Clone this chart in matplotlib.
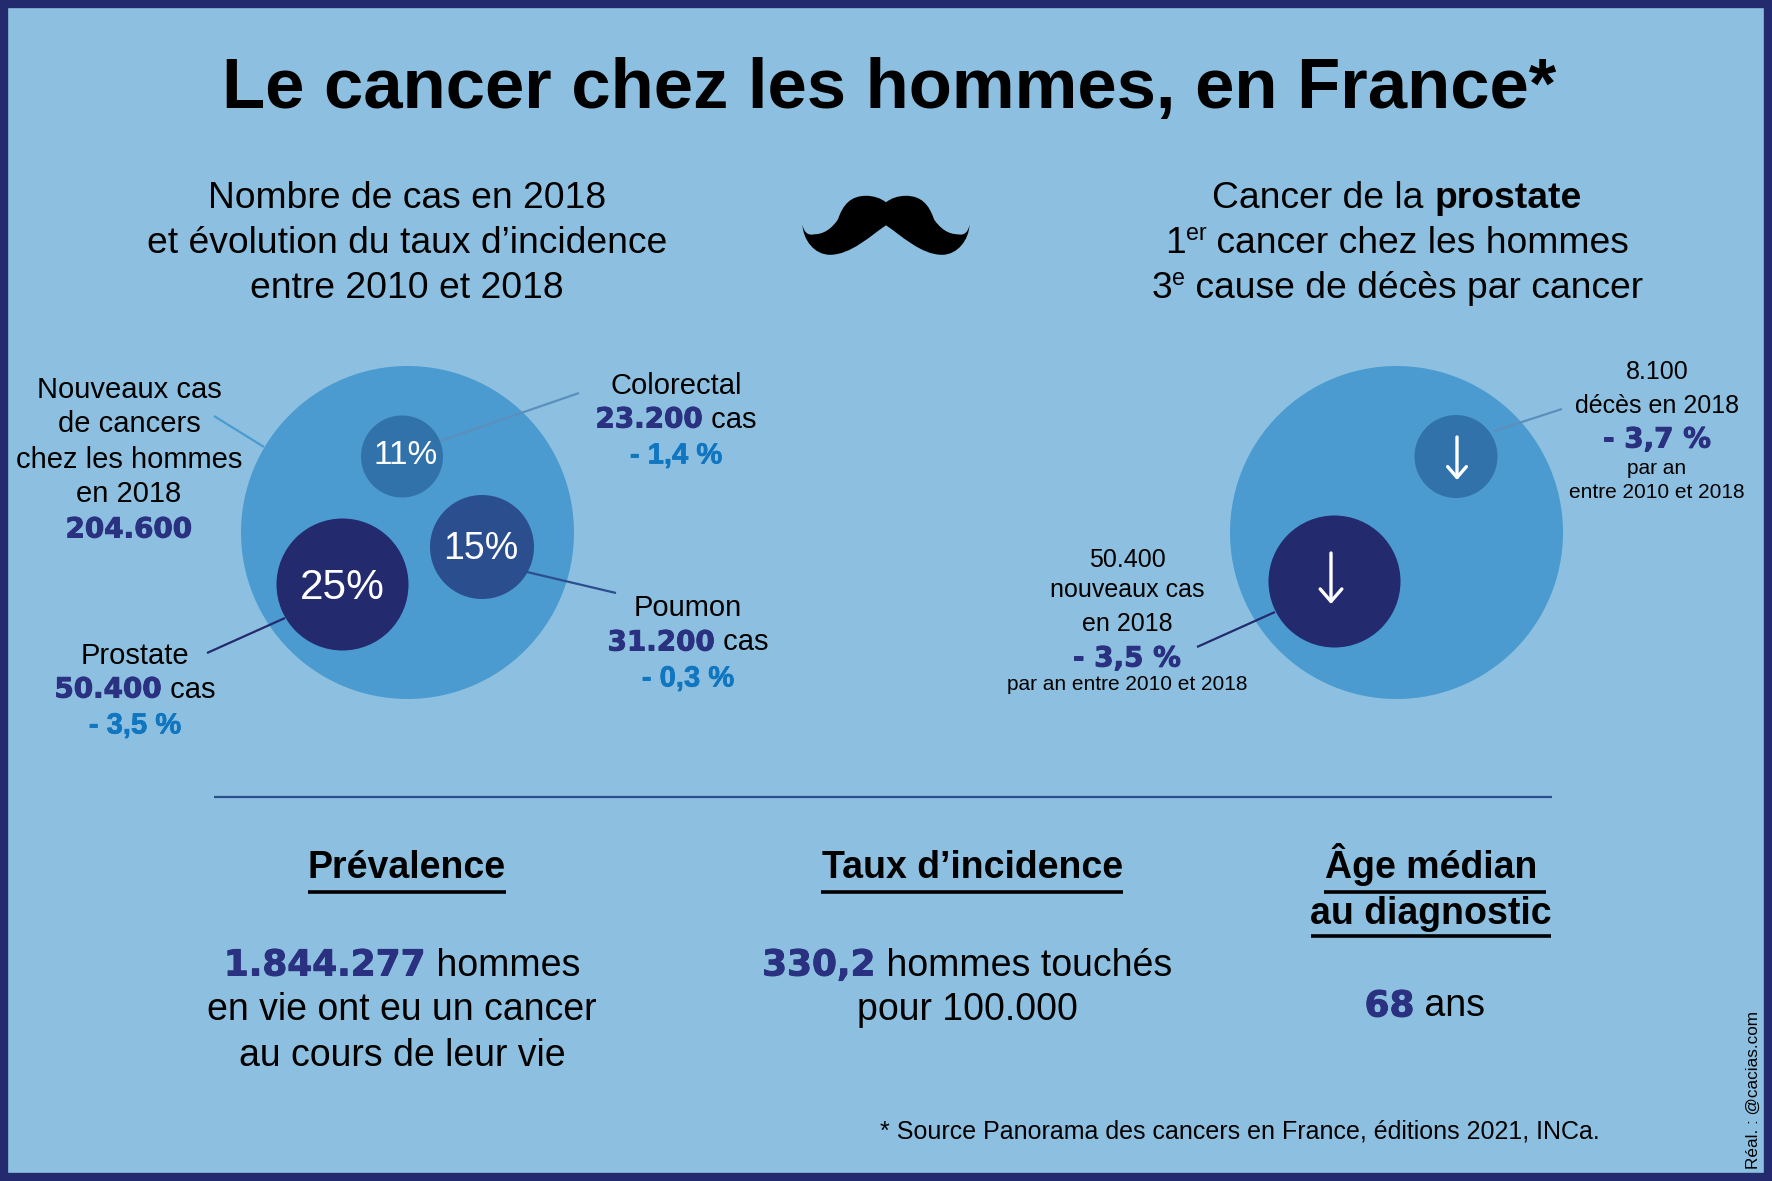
#!/usr/bin/python
# Infographic: le cancer chez les hommes, en France
import matplotlib
matplotlib.use('Agg')
import matplotlib.pyplot as plt
import matplotlib.patheffects as pe
from matplotlib.patches import Circle, PathPatch, FancyArrowPatch
from matplotlib.path import Path

plt.rcParams['font.family'] = ['Liberation Sans', 'DejaVu Sans']

# chart data
title = 'Le cancer chez les hommes, en France*'
shares = ['11%', '15%', '25%']
sites = ['Colorectal', 'Poumon', 'Prostate']
site_cases = ['23.200', '31.200', '50.400']
site_change = ['- 1,4 %', '- 0,3 %', '- 3,5 %']
total_cases = '204.600'
total_lines = ['Nouveaux cas', 'de cancers', 'chez les hommes', 'en 2018']
left_head = ['Nombre de cas en 2018', 'et évolution du taux d’incidence', 'entre 2010 et 2018']
deaths = '8.100'
deaths_change = '- 3,7 %'
new_cases = '50.400'
new_change = '- 3,5 %'
prevalence = '1.844.277'
incidence = '330,2'
median_age = '68'
source = '* Source Panorama des cancers en France, éditions 2021, INCa.'
credit = 'Réal. : @cacias.com'

# colours
BG = '#8dc0e0'
NAVY = '#232a6e'
NUM = '#2a3180'
MID = '#2b4e8e'
STEEL = '#3272ab'
DISC = '#4b9bd0'
PCT = '#0f76bf'

W, H = 1772, 1181
fig = plt.figure(figsize=(W / 100, H / 100), dpi=100, facecolor=BG)
ax = fig.add_axes([0, 0, 1, 1])
ax.set_xlim(0, W)
ax.set_ylim(H, 0)
ax.axis('off')


def runs(cx, y, parts, size):
    # centred line made of several styled pieces, y is the middle of the line
    renderer = fig.canvas.get_renderer()
    base = y + 0.36 * size * 100 / 72
    items = []
    total = 0
    for txt, opts in parts:
        opts = dict(opts)
        sup = opts.pop('sup', False)
        heavy = opts.pop('heavy', 0)
        s = opts.pop('fs', size * 0.62 if sup else size)
        dy = -0.36 * size * 100 / 72 if sup else 0
        t = ax.text(0, base + dy, txt, fontsize=s, ha='left', va='baseline', **opts)
        if heavy:
            t.set_path_effects([pe.withStroke(linewidth=heavy, foreground=opts.get('color', 'black'))])
        w = t.get_window_extent(renderer).width
        items.append((t, w))
        total += w
    x = cx - total / 2
    for t, w in items:
        t.set_x(x)
        x += w


def plain(cx, y, txt, size, **kw):
    runs(cx, y, [(txt, kw)], size)


def num(txt, fs):
    # the figures in the reference are very wide and heavy
    return (txt, dict(color=NUM, fontweight='bold', family='DejaVu Sans', fs=fs, heavy=0.7))


def line(x0, y0, x1, y1, color, lw=1.6):
    ax.plot([x0, x1], [y0, y1], color=color, lw=lw, solid_capstyle='butt', zorder=3)


def disc(cx, cy, r, color):
    ax.add_patch(Circle((cx, cy), r, facecolor=color, edgecolor='none', zorder=2))


# frame
for x0, y0, x1, y1 in [(0, 4, W, 4), (0, H - 4, W, H - 4), (4, 0, 4, H), (W - 4, 0, W - 4, H)]:
    ax.plot([x0, x1], [y0, y1], color=NAVY, lw=6, solid_capstyle='butt', zorder=5)

# title
plain(889, 83, title, 50.9, fontweight='bold', color='black')

# headings
for yy, txt in zip([195, 240, 285], left_head):
    plain(407, yy, txt, 26.87)
runs(1397, 195, [('Cancer de la ', {}), ('prostate', dict(fontweight='bold'))], 26.87)
runs(1397, 240, [('1', {}), ('er', dict(sup=True)), (' cancer chez les hommes', {})], 26.87)
runs(1397, 285, [('3', {}), ('e', dict(sup=True)), (' cause de décès par cancer', {})], 26.87)

# moustache, outline traced on the left half then mirrored
mx, my = 886, 202.3
left = [(0, 0), (-5, -4), (-12, -6.5), (-20, -6.5), (-35, -6.5), (-43, 2), (-48, 17),
        (-54, 26), (-62, 32), (-72, 32), (-78, 33.5), (-82, 30), (-83.5, 22.5),
        (-83, 37), (-72, 52.5), (-56, 52.5), (-35, 52.5), (-15, 33), (0, 23)]
# second half runs back from the lower notch to the upper one
verts = [(mx + a, my + b) for a, b in left]
verts += [(mx - a, my + b) for a, b in left[-2::-1]]
codes = [Path.MOVETO] + [Path.CURVE4] * (len(verts) - 1)
ax.add_patch(PathPatch(Path(verts, codes), facecolor='black', edgecolor='none', zorder=2))

# left bubbles
disc(407.5, 532.5, 166.5, DISC)
disc(402, 456.5, 41, STEEL)
disc(482, 547, 52, MID)
disc(342.5, 584.5, 66, NAVY)
line(214, 416, 264, 447, DISC)
line(440, 441, 579, 393, '#5b8fbc')
line(527, 572, 616, 593, MID)
line(207, 653, 285, 618, NAVY)
for (cx, cy, size), txt in zip([(405.5, 456, 24), (481, 549, 27), (342, 588, 30.5)], shares):
    ax.text(cx, cy, txt, color='white', fontsize=size, ha='center', va='center', zorder=4)

for yy, txt in zip([387, 422, 457, 492], total_lines):
    plain(129, yy, txt, 21)
runs(129, 527, [num(total_cases, 20)], 21)

label_pos = [(676, 383), (688, 606), (135, 653)]
for (cx, yy), site, cases, change in zip(label_pos, sites, site_cases, site_change):
    plain(cx, yy, site, 21)
    runs(cx, yy + 34, [num(cases, 20), (' cas', {})], 21)
    runs(cx, yy + 70, [(change, dict(color=PCT, fontweight='bold', heavy=0.5))], 21)

# right bubbles
disc(1396.5, 532.5, 166.5, DISC)
disc(1456, 456.5, 41.5, STEEL)
disc(1334.5, 581.5, 66, NAVY)
line(1494, 431, 1562, 409, '#5b8fbc')
line(1197, 647, 1275, 612, NAVY)
for x0, y0, y1, ms in [(1457, 437, 480, 26), (1331, 553, 604, 30)]:
    ax.add_patch(FancyArrowPatch((x0, y0), (x0, y1), mutation_scale=ms,
                                 arrowstyle='->,head_length=0.3,head_width=0.26',
                                 color='white', lw=2.4, shrinkA=0, shrinkB=0, zorder=4))

plain(1657, 370, deaths, 18)
plain(1657, 404, 'décès en 2018', 18)
runs(1657, 437, [num(deaths_change, 20)], 21)
plain(1657, 466, 'par an', 15)
plain(1657, 490, 'entre 2010 et 2018', 15)

plain(1127, 558, new_cases, 18)
plain(1127, 588, 'nouveaux cas', 18)
plain(1127, 622, 'en 2018', 18)
runs(1127, 656, [num(new_change, 20)], 21)
plain(1127, 683, 'par an entre 2010 et 2018', 15)

# divider
line(214, 797, 1552, 797, MID, lw=1.6)

# bottom block
plain(407, 865, 'Prévalence', 27, fontweight='bold')
line(308.5, 891.5, 506, 891.5, 'black', lw=2.6)
plain(973, 865, 'Taux d’incidence', 27, fontweight='bold')
line(821.5, 891.5, 1123, 891.5, 'black', lw=2.6)
plain(1431, 865, 'Âge médian', 27, fontweight='bold')
line(1324, 891.5, 1546, 891.5, 'black', lw=2.6)
plain(1431, 910, 'au diagnostic', 27, fontweight='bold')
line(1311, 936, 1551, 936, 'black', lw=2.6)

runs(402, 962, [num(prevalence, 25.8), (' hommes', {})], 27)
plain(402, 1007, 'en vie ont eu un cancer', 27)
plain(402, 1052, 'au cours de leur vie', 27)
runs(967, 962, [num(incidence, 25.8), (' hommes touchés', {})], 27)
plain(967, 1007, 'pour 100.000', 27)
runs(1425, 1003, [num(median_age, 25.8), (' ans', {})], 27)

plain(1240, 1129, source, 18)
ax.text(1753, 1090, credit, fontsize=12.3, rotation=90, ha='center', va='center')

fig.savefig('out.png', dpi=100, facecolor=BG)
